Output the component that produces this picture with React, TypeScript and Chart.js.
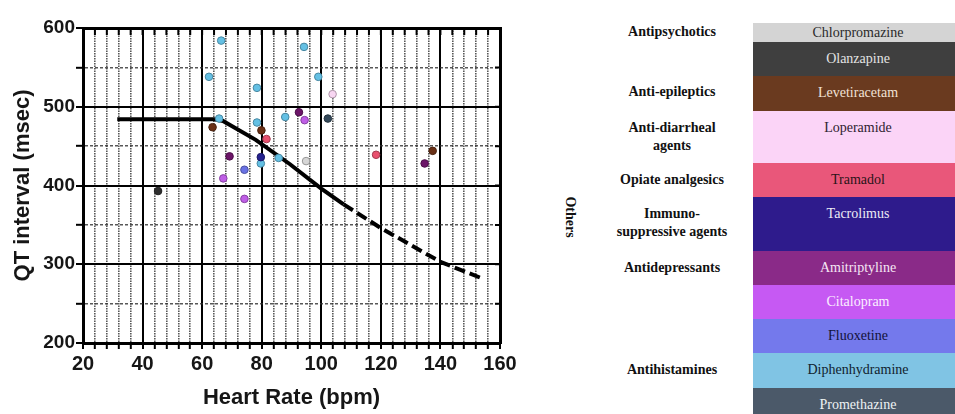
import React, { useEffect, useRef } from "react";
import { Chart, registerables } from "chart.js";

Chart.register(...registerables);

// ---------- data ----------
const drugNames = [
  "Chlorpromazine",
  "Olanzapine",
  "Levetiracetam",
  "Loperamide",
  "Tramadol",
  "Tacrolimus",
  "Amitriptyline",
  "Citalopram",
  "Fluoxetine",
  "Diphenhydramine",
  "Promethazine",
];
const cellColors = [
  "#d4d4d4", "#3f3f3f", "#6a3a1f", "#fbd4f7", "#e9577a", "#2e1b8c",
  "#8a2a88", "#c659f3", "#7479ec", "#80c4e4", "#4b5969",
];
const cellTextColors = [
  "#2a2a2a", "#e4e4e4", "#f2e2d6", "#2e2230", "#2a1418", "#ecebf6",
  "#f6e6f4", "#fbeeff", "#12123a", "#10222e", "#eef2f4",
];
const pointColors = [
  "#d6d6d6", "#2e2e2e", "#6a3016", "#f8d6f2", "#e8506e", "#25228f",
  "#6c1568", "#bf5ee6", "#6a72e4", "#64c0e4", "#34495a",
];
// heart rate (bpm) and QT (msec) of each patient, grouped by drug
const heartRates: number[][] = [
  [94.9],
  [45.2],
  [63.5, 79.9, 137.4],
  [103.8],
  [81.6, 118.4],
  [79.7],
  [92.5, 69.2, 134.7],
  [94.4, 67.1, 74.2],
  [74.2],
  [66.4, 94.2, 62.3, 99.0, 78.4, 87.9, 65.7, 78.4, 79.7, 85.7],
  [102.2],
];
const qtIntervals: number[][] = [
  [431],
  [393],
  [474, 470, 444],
  [516],
  [459, 439],
  [436],
  [493, 437, 428],
  [483, 409, 383],
  [420],
  [584, 576, 538, 538, 524, 487, 485, 480, 428, 435],
  [485],
];
// QT nomogram line
const nomogramHR = [31.5, 64, 67, 78, 89.5, 100, 107.5];
const nomogramQT = [484, 484, 482, 458, 427, 396, 376];
const extrapolatedHR = [107.5, 120, 140, 154];
const extrapolatedQT = [376, 346, 303, 282];

const categoryNames = [
  ["Antipsychotics"],
  ["Anti-epileptics"],
  ["Anti-diarrheal", "agents"],
  ["Opiate analgesics"],
  ["Immuno-", "suppressive agents"],
  ["Antidepressants"],
  ["Antihistamines"],
];
const groupName = "Others";
const xTitle = "Heart Rate (bpm)";
const yTitle = "QT interval (msec)";
const xRange = [20, 160];
const yRange = [200, 600];

// ---------- layout (not data) ----------
const rowTops = [22.7, 41.7, 76, 110.7, 163.3, 197.3, 251, 285, 319, 353.3, 387.7, 422];
const categoryCenters = [31.7, 91.7, 127.7, 180, 214, 268.3, 370];

const SANS = "'Liberation Sans', Arial, sans-serif";
const SERIF = "'Liberation Serif', 'Times New Roman', serif";
const MINOR = "rgba(45,45,45,0.8)";

function darken(hex: string, f: number) {
  const n = parseInt(hex.slice(1), 16);
  const r = Math.round(((n >> 16) & 255) * f);
  const g = Math.round(((n >> 8) & 255) * f);
  const b = Math.round((n & 255) * f);
  return `rgb(${r},${g},${b})`;
}

const innerTicks = {
  id: "innerTicks",
  beforeDatasetsDraw(chart: any) {
    const { ctx, chartArea, scales } = chart;
    const x = scales.x;
    const y = scales.y;
    ctx.save();
    ctx.strokeStyle = "#000";
    ctx.lineWidth = 2;
    ctx.beginPath();
    x.ticks.forEach((t: any) => {
      const px = x.getPixelForValue(t.value);
      ctx.moveTo(px, chartArea.top);
      ctx.lineTo(px, chartArea.top + 7);
    });
    y.ticks.forEach((t: any) => {
      const py = y.getPixelForValue(t.value);
      ctx.moveTo(chartArea.right, py);
      ctx.lineTo(chartArea.right - 5, py);
    });
    ctx.stroke();
    ctx.restore();
  },
};

function QTChart() {
  const ref = useRef<HTMLCanvasElement | null>(null);
  useEffect(() => {
    if (!ref.current) return;
    const scatterSets = drugNames.map((name, i) => ({
      label: name,
      data: heartRates[i].map((hr, j) => ({ x: hr, y: qtIntervals[i][j] })),
      backgroundColor: pointColors[i],
      borderColor: darken(pointColors[i], 0.7),
      borderWidth: 1,
      pointRadius: 3.8,
      showLine: false,
      order: 1,
    }));
    const lineSets = [
      {
        label: "nomogram",
        data: nomogramHR.map((hr, j) => ({ x: hr, y: nomogramQT[j] })),
        showLine: true,
        borderColor: "#000",
        borderWidth: 4,
        pointRadius: 0,
        borderCapStyle: "butt",
        order: 5,
      },
      {
        label: "extrapolated",
        data: extrapolatedHR.map((hr, j) => ({ x: hr, y: extrapolatedQT[j] })),
        showLine: true,
        borderColor: "#000",
        borderWidth: 4,
        borderDash: [11, 5],
        pointRadius: 0,
        order: 5,
      },
    ];
    const majorX = (c: any) => c.tick && c.tick.value % 20 === 0;
    const majorY = (c: any) => c.tick && c.tick.value % 100 === 0;
    const chart = new Chart(ref.current, {
      type: "scatter",
      data: { datasets: [...lineSets, ...scatterSets] as any },
      options: {
        animation: false,
        responsive: false,
        maintainAspectRatio: false,
        layout: { padding: { top: 28, right: 20, left: 0, bottom: 0 } },
        plugins: { legend: { display: false }, tooltip: { enabled: false } },
        scales: {
          x: {
            type: "linear",
            position: "bottom",
            min: xRange[0],
            max: xRange[1],
            ticks: {
              stepSize: 4,
              autoSkip: false,
              maxRotation: 0,
              callback: (v: any) => (Number(v) % 20 === 0 ? String(v) : ""),
              font: { family: SANS, size: 20, weight: "bold" },
              color: "#161616",
              padding: 3,
            },
            grid: {
              color: (c: any) => (majorX(c) ? "#000" : MINOR),
              lineWidth: (c: any) => (majorX(c) ? 2 : 1.6),
              tickColor: "#000",
              tickWidth: 2,
              tickLength: 6,
              tickBorderDash: [],
            },
            border: {
              display: true,
              color: "#000",
              width: 3,
              dash: (c: any) => (c.tick && c.tick.value % 20 !== 0 ? [1.5, 1] : []),
            },
            title: {
              display: true,
              text: xTitle,
              font: { family: SANS, size: 22, weight: "bold", lineHeight: 1.2 },
              color: "#161616",
              padding: { top: 0, bottom: 3 },
            },
            afterFit: (s: any) => {
              s.height = 71;
            },
          } as any,
          y: {
            type: "linear",
            position: "left",
            min: yRange[0],
            max: yRange[1],
            ticks: {
              stepSize: 50,
              autoSkip: false,
              callback: (v: any) => (Number(v) % 100 === 0 ? String(v) : ""),
              font: { family: SANS, size: 19, weight: "bold" },
              color: "#161616",
              padding: 1,
            },
            grid: {
              color: (c: any) => (majorY(c) ? "#000" : MINOR),
              lineWidth: (c: any) => (majorY(c) ? 2 : 1.6),
              tickColor: "#000",
              tickWidth: 2,
              tickLength: 7,
              tickBorderDash: [],
            },
            border: {
              display: true,
              color: "#000",
              width: 3,
              dash: (c: any) => (c.tick && c.tick.value % 100 !== 0 ? [3, 2] : []),
            },
            title: {
              display: true,
              text: yTitle,
              font: { family: SANS, size: 22, weight: "bold", lineHeight: 1.2 },
              color: "#161616",
              padding: { top: 10, bottom: 0 },
            },
            afterFit: (s: any) => {
              s.width = 83;
            },
          } as any,
          xTop: {
            type: "linear",
            position: "top",
            min: xRange[0],
            max: xRange[1],
            ticks: { display: false },
            grid: { drawOnChartArea: false, drawTicks: false },
            border: { display: true, color: "#000", width: 3 },
            afterFit: (s: any) => {
              s.height = 0;
            },
          } as any,
          yRight: {
            type: "linear",
            position: "right",
            min: yRange[0],
            max: yRange[1],
            ticks: { display: false },
            grid: { drawOnChartArea: false, drawTicks: false },
            border: { display: true, color: "#000", width: 3 },
            afterFit: (s: any) => {
              s.width = 0;
            },
          } as any,
        },
      },
      plugins: [innerTicks],
    });
    return () => chart.destroy();
  }, []);
  return (
    <canvas
      ref={ref}
      width={520}
      height={414}
      style={{ position: "absolute", left: 0, top: 0, width: 520, height: 414, display: "block" }}
    />
  );
}

export default function App() {
  return (
    <div
      style={{
        position: "absolute",
        left: 0,
        top: 0,
        width: 955,
        height: 414,
        overflow: "hidden",
        background: "#fff",
      }}
    >
      <QTChart />
      {categoryNames.map((lines, i) => (
        <div
          key={"cat" + i}
          style={{
            position: "absolute",
            left: 582,
            width: 180,
            top: categoryCenters[i] - 9,
            textAlign: "center",
            fontFamily: SERIF,
            fontWeight: "bold",
            fontSize: 14,
            lineHeight: "18px",
            color: "#111",
          }}
        >
          {lines.map((l, k) => (
            <div key={k}>{l}</div>
          ))}
        </div>
      ))}
      <div
        style={{
          position: "absolute",
          left: 570 - 30,
          top: 217 - 9,
          width: 60,
          height: 18,
          lineHeight: "18px",
          textAlign: "center",
          transform: "rotate(90deg)",
          fontFamily: SERIF,
          fontWeight: "bold",
          fontSize: 14,
          color: "#111",
        }}
      >
        {groupName}
      </div>
      {drugNames.map((name, i) => {
        const h = rowTops[i + 1] - rowTops[i];
        return (
          <div
            key={name}
            style={{
              position: "absolute",
              left: 753,
              width: 210,
              top: rowTops[i],
              height: h,
              background: cellColors[i],
              color: cellTextColors[i],
              textAlign: "center",
              fontFamily: SERIF,
              fontSize: 14,
              lineHeight: `${Math.min(h, 34)}px`,
            }}
          >
            {name}
          </div>
        );
      })}
    </div>
  );
}
